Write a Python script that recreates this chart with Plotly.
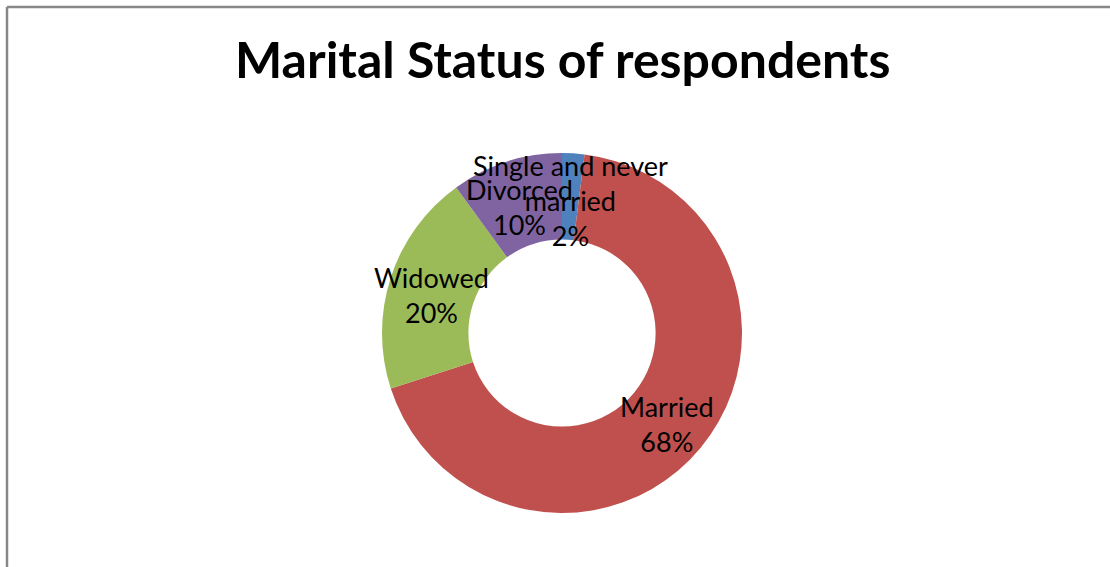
import math
import plotly.graph_objects as go

labels = ["Single and never married", "Married", "Widowed", "Divorced"]
label_text = ["Single and never<br>married", "Married", "Widowed", "Divorced"]
values = [2, 68, 20, 10]
colors = ["#4F81BD", "#C0504D", "#9BBB59", "#8064A2"]
title = "Marital Status of respondents"

W, H = 1110, 567
cx, cy, R = 562, 333, 180
hole = 0.52

fig = go.Figure(go.Pie(
    labels=labels, values=values, sort=False, direction="clockwise", rotation=0,
    hole=hole, marker=dict(colors=colors, line=dict(width=0)),
    textinfo="none", hoverinfo="label+percent", showlegend=False,
    domain=dict(x=[(cx - R) / W, (cx + R) / W], y=[(H - cy - R) / H, (H - cy + R) / H]),
))

total = sum(values)
cum = 0
rmid = R * (1 + hole) / 2
for lt, v in zip(label_text, values):
    mid = (cum + v / 2) / total * 2 * math.pi
    cum += v
    px = cx + rmid * math.sin(mid)
    py = cy - rmid * math.cos(mid) + 4
    pct = round(v / total * 100)
    fig.add_annotation(
        x=px / W, y=1 - py / H, xref="paper", yref="paper",
        text=f"{lt}<br>{pct}%", showarrow=False,
        font=dict(family="Lato", size=27, color="#000000"),
        xanchor="center", yanchor="middle", align="center",
    )

fig.add_annotation(
    x=cx / W, y=1 - 59 / H, xref="paper", yref="paper", text=f"<b>{title}</b>",
    showarrow=False, font=dict(family="Lato", size=50, color="#000000"),
    xanchor="center", yanchor="middle",
)

# chart-area frame (top and left edges visible)
fig.add_shape(type="line", xref="paper", yref="paper", x0=7 / W, x1=1.0, y0=1 - 7 / H, y1=1 - 7 / H,
              line=dict(color="#878787", width=2.5))
fig.add_shape(type="line", xref="paper", yref="paper", x0=7 / W, x1=7 / W, y0=1 - 7 / H, y1=0,
              line=dict(color="#878787", width=2.5))

fig.update_layout(
    width=W, height=H, margin=dict(l=0, r=0, t=0, b=0),
    paper_bgcolor="white", plot_bgcolor="white",
)
fig.write_html("out.html", config={"displayModeBar": False},
               post_script="document.body.style.margin='0';document.body.style.overflow='hidden';")
